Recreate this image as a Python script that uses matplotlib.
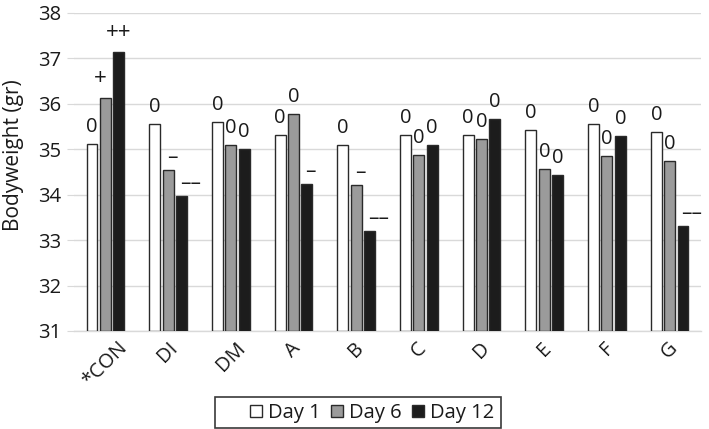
import matplotlib
matplotlib.use("Agg")
import matplotlib.pyplot as plt
import numpy as np
from matplotlib.patches import Rectangle

plt.rcParams['font.family'] = ['Open Sans', 'DejaVu Sans']

categories = ["*CON", "DI", "DM", "A", "B", "C", "D", "E", "F", "G"]
series_names = ["Day 1", "Day 6", "Day 12"]
day1 = [35.12, 35.56, 35.59, 35.32, 35.10, 35.32, 35.32, 35.43, 35.56, 35.37]
day6 = [36.12, 34.55, 35.10, 35.78, 34.21, 34.88, 35.22, 34.56, 34.85, 34.74]
day12 = [37.13, 33.96, 35.00, 34.24, 33.20, 35.10, 35.67, 34.43, 35.29, 33.32]
labels1 = ["0", "0", "0", "0", "0", "0", "0", "0", "0", "0"]
labels6 = ["+", "\u2013", "0", "0", "\u2013", "0", "0", "0", "0", "0"]
labels12 = ["++", "\u2013\u2013", "0", "\u2013", "\u2013\u2013", "0", "0", "0", "0", "\u2013\u2013"]
yticks = [31, 32, 33, 34, 35, 36, 37, 38]

W, H = 709, 429
fig = plt.figure(figsize=(W / 100, H / 100), dpi=100)
ax = fig.add_axes([74 / W, 1 - 331 / H, 627 / W, (331 - 12.7) / H])

x = np.arange(len(categories))
bw = 0.175
step = 0.213
colors = ["#ffffff", "#9b9b9b", "#1c1c1c"]
all_vals = [day1, day6, day12]
all_labels = [labels1, labels6, labels12]
handles = []
for i, (vals, labs) in enumerate(zip(all_vals, all_labels)):
    xs = x + (i - 1) * step
    b = ax.bar(xs, np.array(vals) - 31, bottom=31, width=bw, color=colors[i],
               edgecolor="#2a2a2a", linewidth=1.0, zorder=3, label=series_names[i])
    handles.append(b)
    for xi, v, lab in zip(xs, vals, labs):
        fs = 14.5
        if lab.startswith("\u2013"):
            dx = 4 if len(lab) == 1 else 9
            dy = 7
            fs = 15
        elif lab.startswith("+"):
            dx = -5 if len(lab) == 1 else 0
            dy = 14
            fs = 16
        else:
            dx, dy = 0, 12
        ax.annotate(lab, (xi, v), xytext=(dx * 0.72, dy * 0.72), textcoords="offset points",
                    ha="center", va="baseline", fontsize=fs, color="#1a1a1a", zorder=4)

ax.set_xlim(-0.5, len(categories) - 0.5)
ax.set_ylim(31, 38)
ax.set_yticks(yticks)
ax.set_yticklabels([str(t) for t in yticks], fontsize=14.5, color="#1a1a1a")
ax.set_xticks(x)
ax.set_xticklabels(categories, rotation=45, ha="center", va="top", fontsize=14.5, color="#1a1a1a")
ax.tick_params(axis="x", length=0, pad=5)
ax.tick_params(axis="y", length=5, color="#d9d9d9", pad=4)
ax.grid(axis="y", color="#d9d9d9", linewidth=1.0, zorder=0)
for s in ["top", "right", "left"]:
    ax.spines[s].set_visible(False)
ax.spines["bottom"].set_color("#d9d9d9")
ax.spines["bottom"].set_linewidth(1.0)
ylab = ax.set_ylabel("Bodyweight (gr)", fontsize=15, color="#1a1a1a")
ylab.set_verticalalignment("center")
ax.yaxis.set_label_coords(-(74 - 14) / 627, (331 - 155) / (331 - 12.7))

leg = fig.legend(handles=handles, labels=series_names, loc="center", ncol=3,
                 bbox_to_anchor=(372 / W, 1 - 413 / H), frameon=False, fontsize=14.5,
                 handlelength=0.6, handleheight=0.6, handletextpad=0.3, columnspacing=0.5,
                 borderpad=0)
for t in leg.get_texts():
    t.set_color("#1a1a1a")
fig.patches.append(Rectangle((215 / W, 1 - 428 / H), (501 - 215) / W, (428 - 397) / H,
                             transform=fig.transFigure, fill=False, edgecolor="#3a3a3a",
                             linewidth=1.2, clip_on=False))

fig.savefig("out.png", dpi=100)
